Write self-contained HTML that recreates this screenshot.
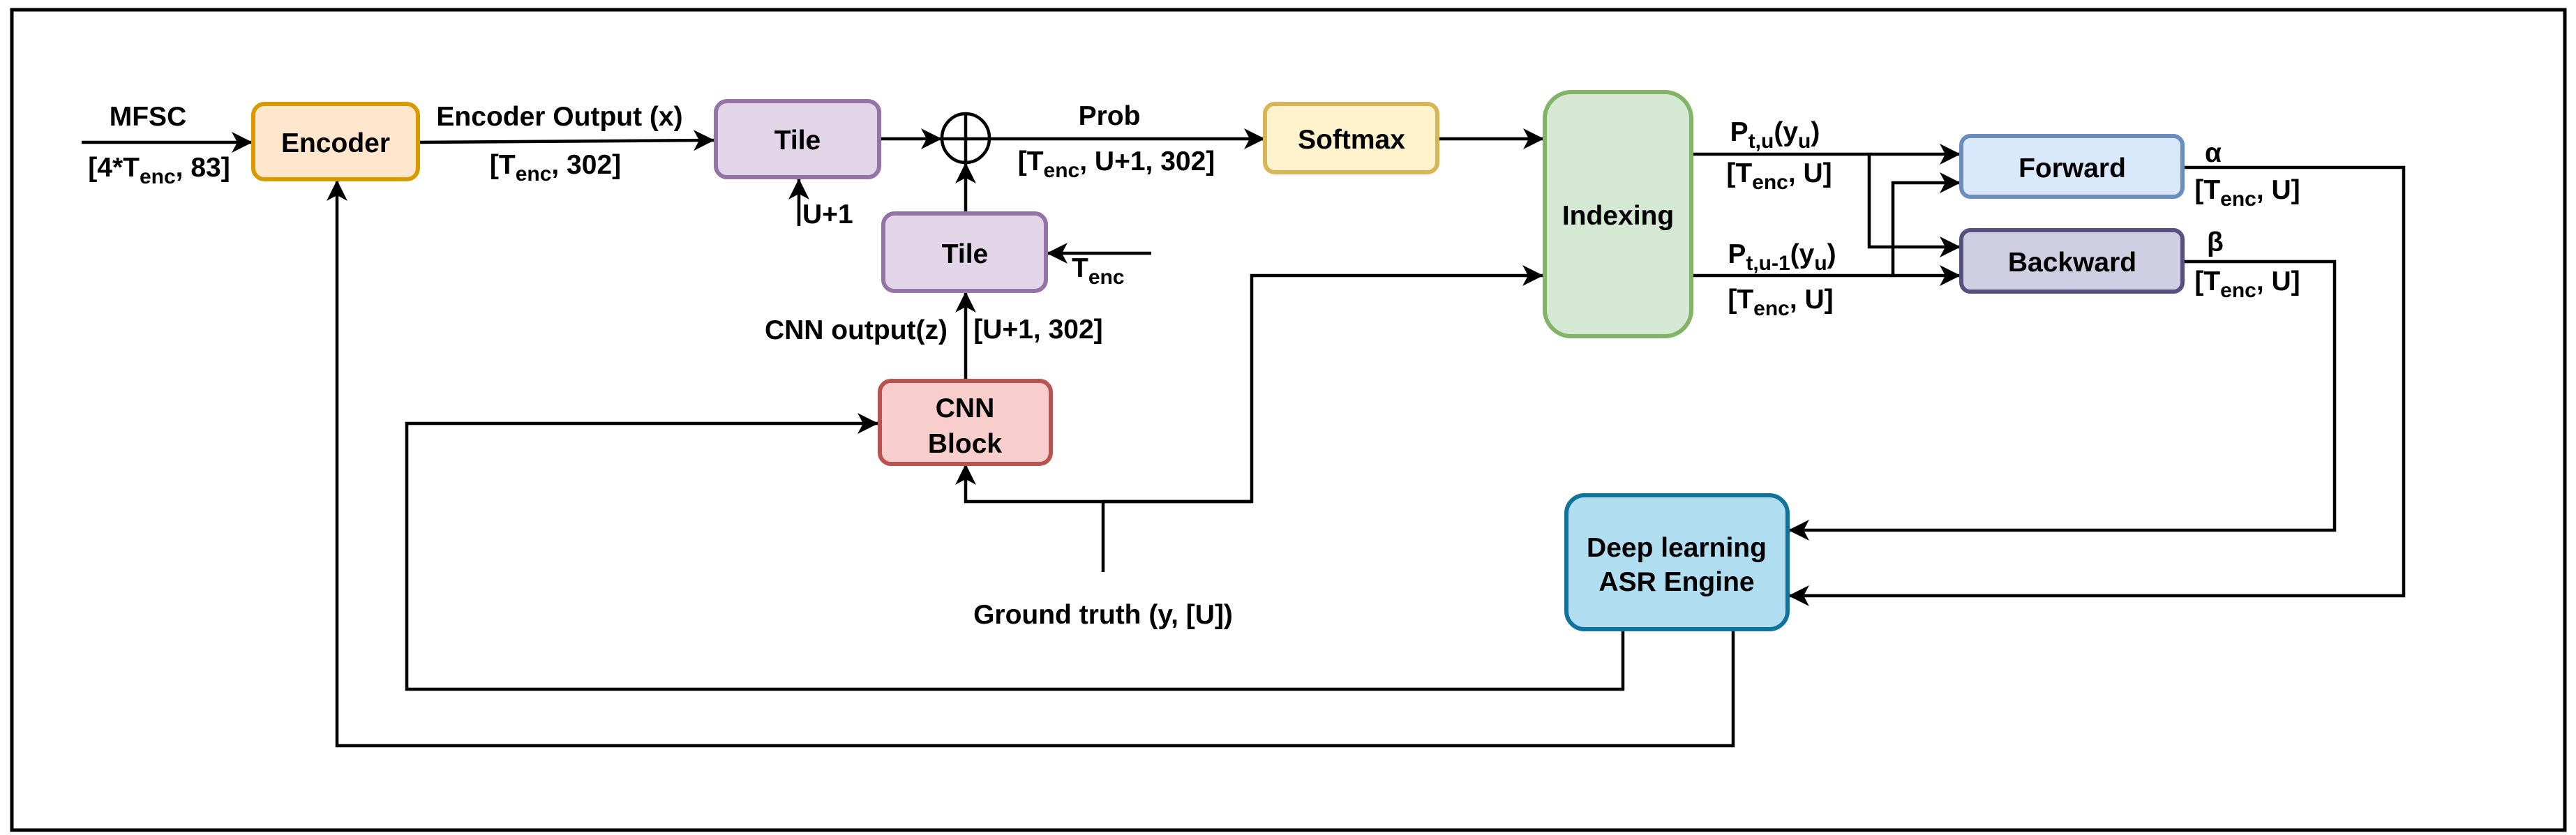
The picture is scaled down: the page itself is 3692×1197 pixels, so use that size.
<!DOCTYPE html>
<html><head><meta charset="utf-8"><style>
html,body{margin:0;padding:0;background:#fff;}
svg{display:block;}
text{font-family:"Liberation Sans",Arial,sans-serif;font-weight:bold;fill:#000;}
</style></head><body>
<svg width="3692" height="1197" viewBox="0 0 3692 1197" xmlns="http://www.w3.org/2000/svg">
<defs>
<marker id="a" markerUnits="userSpaceOnUse" markerWidth="34" markerHeight="34" refX="30" refY="15" orient="auto">
<path d="M0,0 L30,15 L0,30 L8,15 Z" fill="#000"/>
</marker>
</defs>
<rect x="17" y="14" width="3659" height="1176" fill="none" stroke="#000" stroke-width="5"/>

<g fill="none" stroke="#000" stroke-width="4.5">
<line x1="117" y1="204" x2="362" y2="204" marker-end="url(#a)"/>
<line x1="600" y1="204" x2="1024" y2="201" marker-end="url(#a)"/>
<line x1="1261" y1="199" x2="1350" y2="199" marker-end="url(#a)"/>
<line x1="1350" y1="199" x2="1813" y2="199" marker-end="url(#a)"/>
<line x1="1145" y1="324" x2="1145" y2="256" marker-end="url(#a)"/>
<line x1="1384" y1="306" x2="1384" y2="233" marker-end="url(#a)"/>
<line x1="1650" y1="363" x2="1500" y2="363" marker-end="url(#a)"/>
<line x1="1384" y1="546" x2="1384" y2="418" marker-end="url(#a)"/>
<line x1="1581" y1="820" x2="1581" y2="719"/>
<polyline points="1794,719 1384,719 1384,665" marker-end="url(#a)"/>
<polyline points="1581,719 1794,719 1794,395 2212,395" marker-end="url(#a)"/>
<line x1="2061" y1="199" x2="2213" y2="199" marker-end="url(#a)"/>
<line x1="2424" y1="221" x2="2810" y2="221" marker-end="url(#a)"/>
<line x1="2424" y1="395" x2="2810" y2="395" marker-end="url(#a)"/>
<polyline points="2679,221 2679,354 2810,354" marker-end="url(#a)"/>
<polyline points="2713,395 2713,262 2810,262" marker-end="url(#a)"/>
<polyline points="3128,240 3445,240 3445,854 2563,854" marker-end="url(#a)"/>
<polyline points="3128,375 3346,375 3346,760 2563,760" marker-end="url(#a)"/>
<polyline points="2326,902 2326,988 583,988 583,607 1259,607" marker-end="url(#a)"/>
<polyline points="2484,902 2484,1069 483,1069 483,258" marker-end="url(#a)"/>
</g>

<ellipse cx="1384" cy="198" rx="34" ry="35" fill="none" stroke="#000" stroke-width="4.5"/>
<line x1="1384" y1="163" x2="1384" y2="233" stroke="#000" stroke-width="4.5"/>

<rect x="363" y="149" width="236" height="108" rx="16" fill="#ffe6cc" stroke="#d79b00" stroke-width="6"/>
<rect x="1026" y="145" width="234" height="109" rx="16" fill="#e1d5e7" stroke="#9673a6" stroke-width="6"/>
<rect x="1266" y="306" width="233" height="111" rx="16" fill="#e1d5e7" stroke="#9673a6" stroke-width="6"/>
<rect x="1261" y="546" width="245" height="119" rx="16" fill="#f8cecc" stroke="#b85450" stroke-width="6"/>
<rect x="1813" y="149" width="247" height="98" rx="14" fill="#fff2cc" stroke="#d6b656" stroke-width="6"/>
<rect x="2214" y="132" width="210" height="350" rx="38" fill="#d5e8d4" stroke="#82b366" stroke-width="6"/>
<rect x="2811" y="195" width="317" height="87" rx="13" fill="#dae8fc" stroke="#6c8ebf" stroke-width="6"/>
<rect x="2811" y="330" width="317" height="88" rx="13" fill="#d0cee2" stroke="#56517e" stroke-width="6"/>
<rect x="2245" y="710" width="317" height="192" rx="26" fill="#b1ddf0" stroke="#10739e" stroke-width="6"/>

<g font-size="39" text-anchor="middle">
<text x="481" y="218">Encoder</text>
<text x="1143" y="214">Tile</text>
<text x="1383" y="377">Tile</text>
<text x="1383" y="598">CNN</text>
<text x="1383" y="649">Block</text>
<text x="1937" y="213">Softmax</text>
<text x="2319" y="322">Indexing</text>
<text x="2970" y="254">Forward</text>
<text x="2970" y="389">Backward</text>
<text x="2403" y="798">Deep learning</text>
<text x="2403" y="847">ASR Engine</text>

<text x="212" y="180">MFSC</text>
<text x="228" y="253">[4*T<tspan font-size="30" dy="10">enc</tspan><tspan dy="-10">, 83]</tspan></text>
<text x="802" y="180">Encoder Output (x)</text>
<text x="796" y="249">[T<tspan font-size="30" dy="10">enc</tspan><tspan dy="-10">, 302]</tspan></text>
<text x="1590" y="179">Prob</text>
<text x="1600" y="244">[T<tspan font-size="30" dy="10">enc</tspan><tspan dy="-10">, U+1, 302]</tspan></text>
<text x="1581" y="894">Ground truth (y, [U])</text>
<text x="1227" y="486">CNN output(z)</text>
<text x="1488" y="485">[U+1, 302]</text>

<text x="2544" y="202">P<tspan font-size="30" dy="10">t,u</tspan><tspan dy="-10">(y</tspan><tspan font-size="30" dy="10">u</tspan><tspan dy="-10">)</tspan></text>
<text x="2550" y="261">[T<tspan font-size="30" dy="10">enc</tspan><tspan dy="-10">, U]</tspan></text>
<text x="2554" y="377">P<tspan font-size="30" dy="10">t,u-1</tspan><tspan dy="-10">(y</tspan><tspan font-size="30" dy="10">u</tspan><tspan dy="-10">)</tspan></text>
<text x="2552" y="442">[T<tspan font-size="30" dy="10">enc</tspan><tspan dy="-10">, U]</tspan></text>
<text x="3221" y="285">[T<tspan font-size="30" dy="10">enc</tspan><tspan dy="-10">, U]</tspan></text>
<text x="3221" y="416">[T<tspan font-size="30" dy="10">enc</tspan><tspan dy="-10">, U]</tspan></text>
</g>
<g font-size="39">
<text x="3160" y="232">α</text>
<text x="3163" y="360">β</text>
<text x="1150" y="320">U+1</text>
<text x="1536" y="397">T<tspan font-size="30" dy="10">enc</tspan></text>
</g>
</svg>
</body></html>
